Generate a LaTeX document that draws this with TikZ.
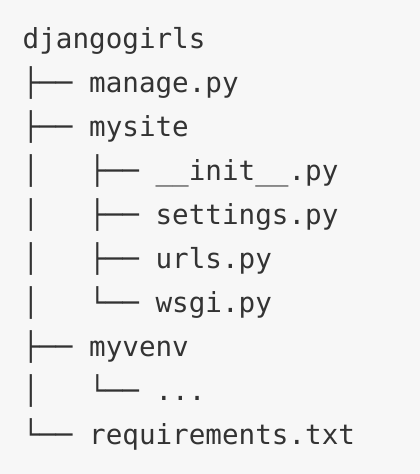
\documentclass[tikz,border=0pt]{standalone}
\usepackage{fontspec}
\setmonofont{DejaVu Sans Mono}
\definecolor{bg}{HTML}{F7F7F7}
\definecolor{fg}{HTML}{333333}
\begin{document}
\begin{tikzpicture}[x=1pt,y=1pt,
  line/.style={anchor=base west, inner sep=0pt, text=fg,
    font=\ttfamily\fontsize{27.6}{27.6}\selectfont}]
\fill[bg] (0,0) rectangle (420,-474);
\useasboundingbox (0,0) rectangle (420,-474);
\node[line] (root) at (22.5,-48) {djangogirls};
\node[line] (manage) at (22.5,-92) {├── manage.py};
\node[line] (mysite) at (22.5,-136) {├── mysite};
\node[line] (init) at (22.5,-180) {│\ \ \ ├── \_\_init\_\_.py};
\node[line] (settings) at (22.5,-224) {│\ \ \ ├── settings.py};
\node[line] (urls) at (22.5,-268) {│\ \ \ ├── urls.py};
\node[line] (wsgi) at (22.5,-312) {│\ \ \ └── wsgi.py};
\node[line] (myvenv) at (22.5,-356) {├── myvenv};
\node[line] (dots) at (22.5,-400) {│\ \ \ └── ...};
\node[line] (req) at (22.5,-444) {└── requirements.txt};
\end{tikzpicture}
\end{document}
